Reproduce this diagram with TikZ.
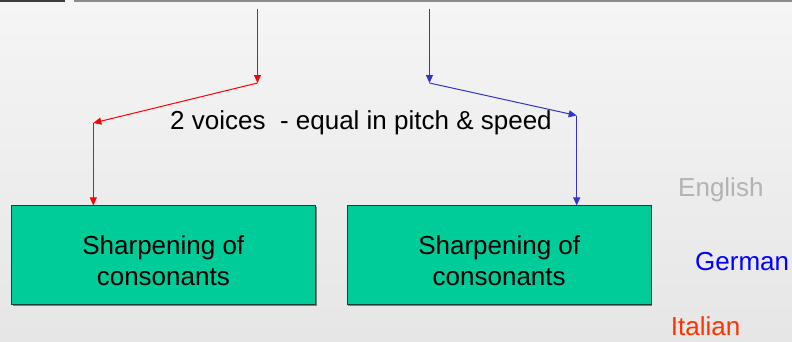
\documentclass[tikz,border=0pt]{standalone}
\usepackage{fontspec}
\setmainfont{Liberation Sans}
\usetikzlibrary{arrows.meta,shadows}
\definecolor{boxgreen}{HTML}{00CC99}
\definecolor{boxedge}{HTML}{1F3D3A}
\definecolor{vred}{HTML}{FF0000}
\definecolor{vblue}{HTML}{3333CC}
\definecolor{engray}{HTML}{B3B3B3}
\definecolor{degblue}{HTML}{0000FF}
\definecolor{itorange}{HTML}{FF3300}
\tikzset{
  x=1pt, y=-1pt,
  bigtext/.style={font=\fontsize{26}{31}\selectfont, inner sep=0pt},
  soundbox/.style={draw=boxedge, line width=0.8pt, fill=boxgreen,
    minimum width=304pt, minimum height=99pt, align=center,
    font=\fontsize{26}{31}\selectfont, text height=60pt, text depth=0pt,
    drop shadow={shadow xshift=1.2pt, shadow yshift=-1.2pt, opacity=0.45, fill=black}},
  voice/.style={line width=1pt, -{Triangle[length=8pt,width=7pt]}},
}
\begin{document}
\begin{tikzpicture}
  % slide background
  \shade[top color={rgb,255:red,245;green,245;blue,245}, bottom color={rgb,255:red,230;green,230;blue,230}]
    (0,0) rectangle (792,341);
  \useasboundingbox (0,0) rectangle (792,341);
  % header rules
  \draw[line width=1.6pt, color={rgb,255:red,60;green,60;blue,60}] (0,0.8) -- (65,0.8);
  \draw[line width=2.2pt, color={rgb,255:red,140;green,140;blue,140}] (74,1.1) -- (792,1.1);

  % the two result boxes
  \node[soundbox] (left)  at (163.3,255.3) {Sharpening of\\consonants};
  \node[soundbox] (right) at (499.2,255.3) {Sharpening of\\consonants};

  % caption between the voices
  \node[bigtext, anchor=base west] (caption) at (170,129.3) {2 voices\ \ - equal in pitch \& speed};

  % language labels
  \node[bigtext, anchor=base west, text=engray]   (english) at (678,196)   {English};
  \node[bigtext, anchor=base west, text=degblue]  (german)  at (695,270)   {German};
  \node[bigtext, anchor=base west, text=itorange] (italian) at (670.7,335) {Italian};

  % red voice
  \coordinate (r0) at (257.5,9);
  \coordinate (r1) at (257.5,83);
  \coordinate (r2) at (93.3,123);
  \draw[voice, vred] (r0) -- (r1);
  \draw[voice, vred] (r1) -- (r2);
  \draw[voice, vred] (r2) -- (r2 |- left.north);

  % blue voice
  \coordinate (b0) at (429.5,9);
  \coordinate (b1) at (429.5,83);
  \coordinate (b2) at (576.7,115.5);
  \draw[voice, vblue] (b0) -- (b1);
  \draw[voice, vblue] (b1) -- (b2);
  \draw[voice, vblue] (b2) -- (b2 |- right.north);
\end{tikzpicture}
\end{document}
